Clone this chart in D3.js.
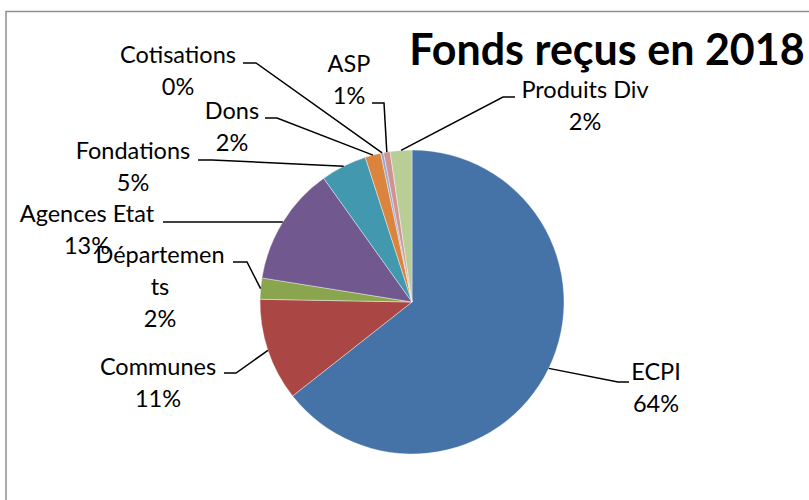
<!DOCTYPE html>
<html>
<head>
<meta charset="utf-8">
<script src="https://cdn.jsdelivr.net/npm/d3@7"></script>
<style>
  body { margin: 0; background: #fff; }
  text { font-family: Lato, "Open Sans", sans-serif; }
</style>
</head>
<body>
<div id="chart"></div>
<script>
// data (percent of total)
const categories = ['ECPI', 'Communes', 'Départements', 'Agences Etat', 'Fondations', 'Dons', 'Cotisations', 'ASP', 'Produits Div'];
const values = [64.4, 10.9, 2.25, 12.6, 4.9, 1.67, 0.3, 0.7, 2.3];
const colors = ['#4572A7', '#AA4643', '#89A54E', '#71588F', '#4198AF', '#DB843D', '#93A9CF', '#D19392', '#B9CD96'];

// label placement (manual, like the original)
const labelLines = {
  'Départements': ['Départemen', 'ts']
};
const labelPos = {
  'ECPI':         {x: 656, y: 380, lead: [[629, 382], [618, 382]]},
  'Communes':     {x: 158, y: 375, lead: [[224, 373], [236, 373]]},
  'Départements': {x: 160, y: 263, lead: [[233, 262], [247, 262]]},
  'Agences Etat': {x: 87,  y: 222, lead: [[163, 222]]},
  'Fondations':   {x: 133, y: 159, lead: [[198, 160], [212, 160]]},
  'Dons':         {x: 232, y: 119, lead: [[265, 118], [277, 118]]},
  'Cotisations':  {x: 178, y: 63,  lead: [[243, 63], [256, 63]]},
  'ASP':          {x: 349, y: 72,  lead: [[372, 103], [384, 103]]},
  'Produits Div': {x: 585, y: 98,  lead: [[515, 97], [503, 97]]}
};

const width = 809, height = 500;
const cx = 412, cy = 302, r = 152;
const lineH = 32;

const svg = d3.select('#chart')
              .append('svg')
              .attr('width', width)
              .attr('height', height);

// chart area border
svg.append('rect')
   .attr('x', 6)
   .attr('y', 11.5)
   .attr('width', 900)
   .attr('height', 600)
   .style('fill', 'none')
   .style('stroke', '#8e8e8e')
   .style('stroke-width', 1.5);

const data = categories.map((c, i) => ({name: c, value: values[i], color: colors[i]}));
const total = d3.sum(values);

const pie = d3.pie().sort(null).value(d => d.value);
const arcs = pie(data);

const arc = d3.arc().innerRadius(0).outerRadius(r);
const edge = d3.arc().innerRadius(r).outerRadius(r);

const g = svg.append('g').attr('transform', 'translate(' + cx + ',' + cy + ')');

g.selectAll('path.slice')
 .data(arcs)
 .enter()
 .append('path')
 .attr('class', 'slice')
 .attr('d', arc)
 .style('fill', d => d.data.color)
 .style('stroke', '#ffffff')
 .style('stroke-width', 0.4);

// leader lines
const line = d3.line();
svg.selectAll('path.leader')
   .data(arcs)
   .enter()
   .append('path')
   .attr('class', 'leader')
   .attr('d', d => {
       let p = labelPos[d.data.name];
       let c = edge.centroid(d);
       return line(p.lead.concat([[cx + c[0], cy + c[1]]]));
   })
   .style('fill', 'none')
   .style('stroke', '#000')
   .style('stroke-width', 1.5);

// labels
arcs.forEach(d => {
    let p = labelPos[d.data.name];
    let lines = (labelLines[d.data.name] || [d.data.name]).concat([Math.round(d.data.value / total * 100) + '%']);
    let t = svg.append('text')
               .attr('text-anchor', 'middle')
               .style('font-size', '23.5px')
               .style('fill', '#000');
    lines.forEach((s, i) => {
        t.append('tspan')
         .attr('x', p.x)
         .attr('y', p.y + i * lineH)
         .text(s);
    });
});

svg.append('text')
   .attr('x', 607)
   .attr('y', 65)
   .attr('text-anchor', 'middle')
   .style('font-size', '43px')
   .style('font-weight', 'bold')
   .style('fill', '#000')
   .text('Fonds reçus en 2018');
</script>
</body>
</html>
